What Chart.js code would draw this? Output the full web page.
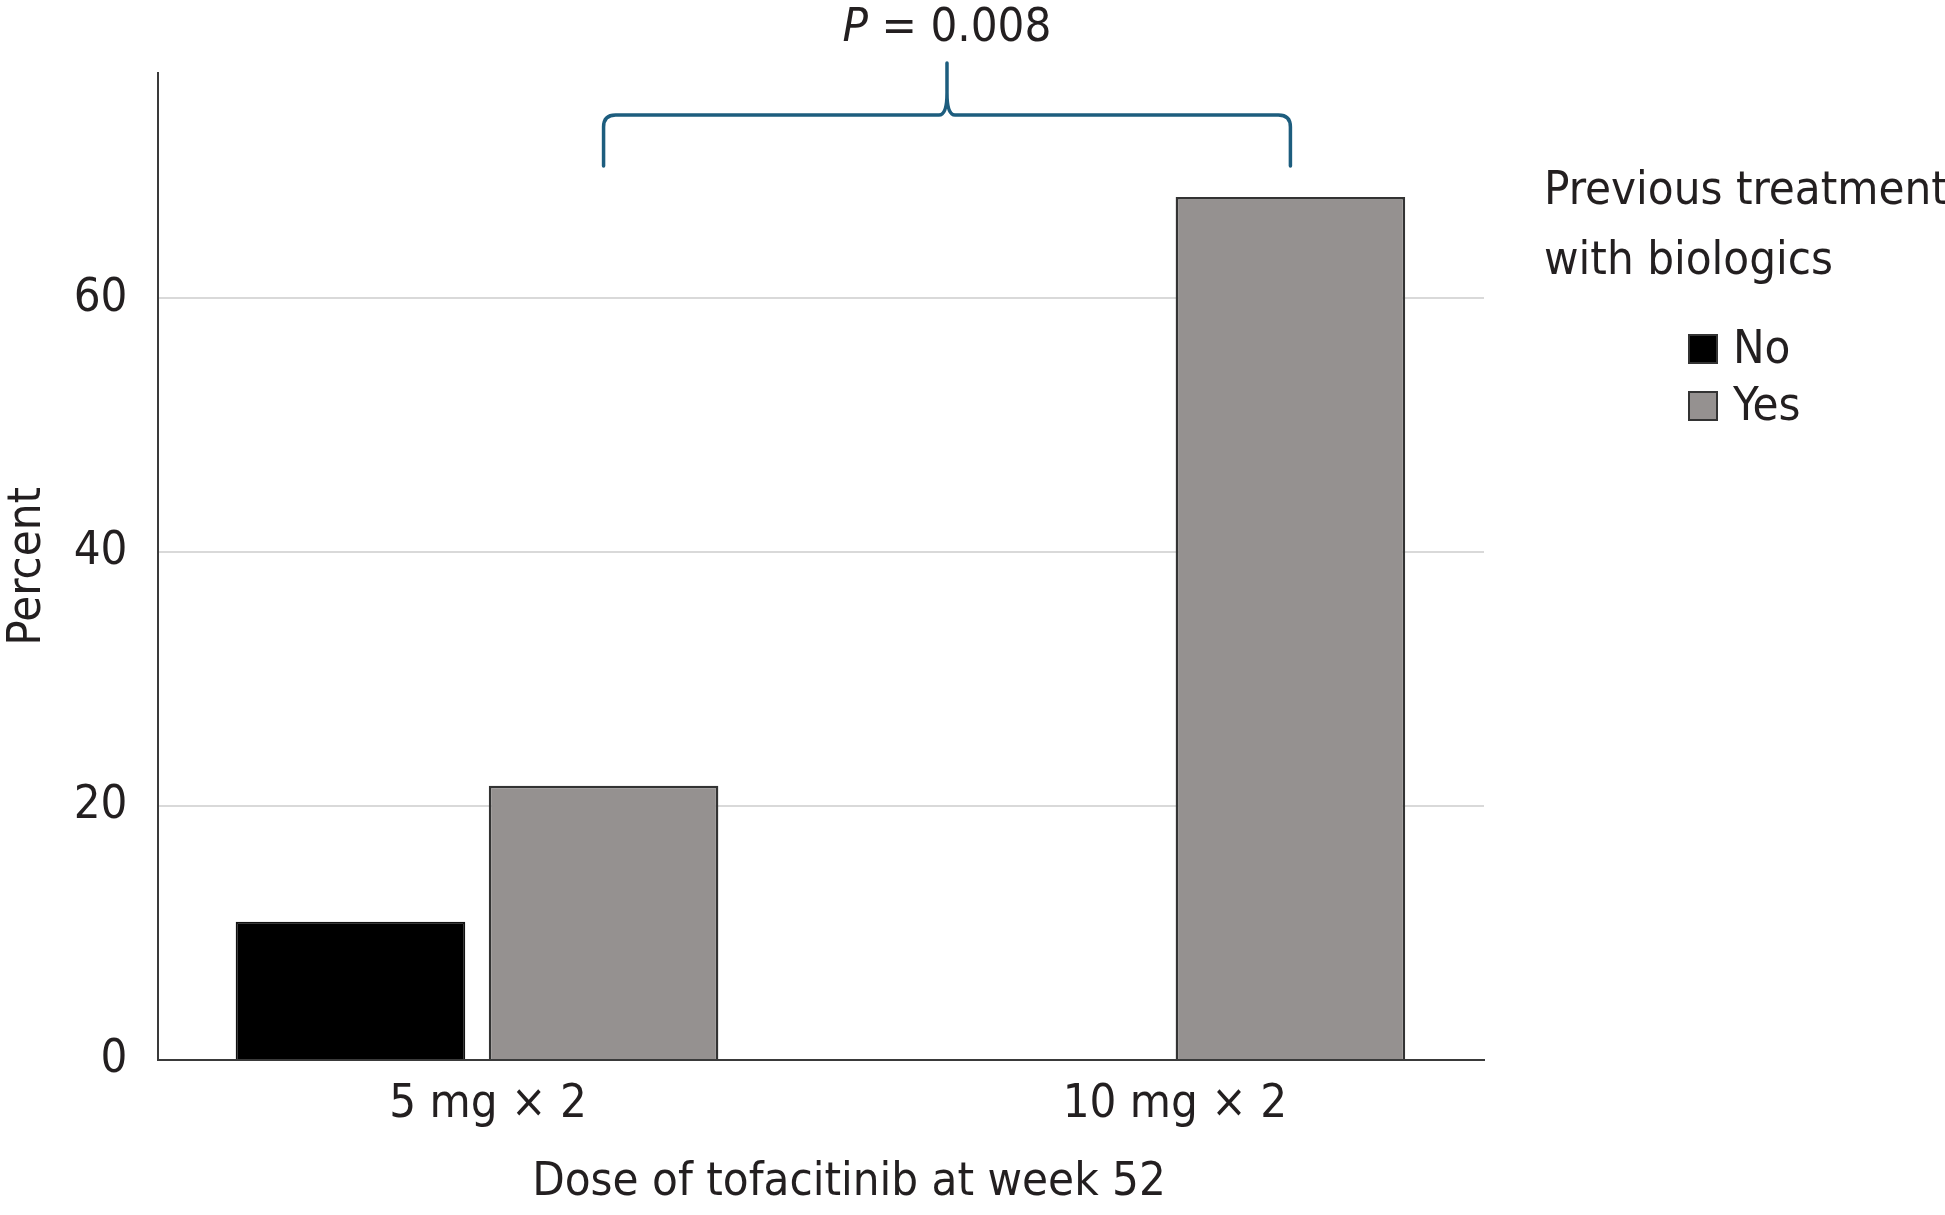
<!DOCTYPE html>
<html>
<head>
<meta charset="utf-8">
<script src="https://cdn.jsdelivr.net/npm/chart.js@4.4.1/dist/chart.umd.min.js"></script>
<style>
  html, body { margin: 0; padding: 0; background: #fff; }
  #wrap { width: 1945px; height: 1215px; position: relative; }
</style>
</head>
<body>
<div id="wrap"><canvas id="doseChart"></canvas></div>
<script>
// ---- data ----
const doses      = ['5 mg \u00d7 2', '10 mg \u00d7 2'];
const groupNames = ['No', 'Yes'];
const pctNo      = [10.9, 0];
const pctYes     = [21.6, 68.0];
const yTicks     = [0, 20, 40, 60];
const legendHead = ['Previous treatment', 'with biologics'];
const xTitle     = 'Dose of tofacitinib at week 52';
const pLabel     = '0.008';

const FONT     = '"DejaVu Sans Condensed", "Liberation Sans Narrow", "DejaVu Sans", sans-serif';
const TXT      = '#231f20';
const NO_COL   = '#000000';
const YES_COL  = '#959190';
const BRACE    = '#1d5d7e';

// brace + P value over the two "Yes" bars
const bracePlugin = {
  id: 'brace',
  afterDatasetsDraw(chart) {
    const ctx  = chart.ctx;
    const bars = chart.getDatasetMeta(1).data;
    const x1 = bars[0].x, x2 = bars[1].x, xm = (x1 + x2) / 2;
    const yEnd = 166, yBar = 115, yTop = 63, r = 12;

    ctx.save();
    ctx.strokeStyle = BRACE;
    ctx.lineWidth = 3.5;
    ctx.lineCap = 'round';
    ctx.beginPath();
    ctx.moveTo(x1, yEnd);
    ctx.lineTo(x1, yBar + r);
    ctx.quadraticCurveTo(x1, yBar, x1 + r, yBar);
    ctx.lineTo(xm - 8, yBar);
    ctx.quadraticCurveTo(xm, yBar, xm, yBar - 22);
    ctx.lineTo(xm, yTop);
    ctx.moveTo(xm, yBar - 22);
    ctx.quadraticCurveTo(xm, yBar, xm + 8, yBar);
    ctx.lineTo(x2 - r, yBar);
    ctx.quadraticCurveTo(x2, yBar, x2, yBar + r);
    ctx.lineTo(x2, yEnd);
    ctx.stroke();

    // "P = 0.008" with italic P
    const italic = 'italic 47px ' + FONT;
    const plain  = '47px ' + FONT;
    ctx.font = italic;
    const wP = ctx.measureText('P').width;
    ctx.font = plain;
    const rest = ' = ' + pLabel;
    const wR = ctx.measureText(rest).width;
    let x = xm - (wP + wR) / 2;
    ctx.fillStyle = TXT;
    ctx.textBaseline = 'middle';
    ctx.textAlign = 'left';
    ctx.font = italic;
    ctx.fillText('P', x, 29);
    ctx.font = plain;
    ctx.fillText(rest, x + wP, 29);
    ctx.restore();
  }
};

// legend on the right with a two-line heading, plus the x title
const sideLegend = {
  id: 'sideLegend',
  afterDraw(chart) {
    const ctx = chart.ctx;
    ctx.save();
    ctx.fillStyle = TXT;
    ctx.font = '47px ' + FONT;
    ctx.textBaseline = 'middle';
    ctx.textAlign = 'left';
    ctx.fillText(legendHead[0], 1544, 192);
    ctx.fillText(legendHead[1], 1544, 262);

    chart.data.datasets.forEach((ds, i) => {
      const y = 349 + i * 57;
      ctx.fillStyle = ds.backgroundColor;
      ctx.fillRect(1689, y - 14, 28, 28);
      ctx.strokeStyle = '#333';
      ctx.lineWidth = 2;
      ctx.strokeRect(1689, y - 14, 28, 28);
      ctx.fillStyle = TXT;
      ctx.fillText(ds.label, 1733, y + 2);
    });

    ctx.textAlign = 'center';
    ctx.fillText(xTitle, 849, 1183);
    ctx.restore();
  }
};

new Chart(document.getElementById('doseChart').getContext('2d'), {
  type: 'bar',
  data: {
    datasets: [
      { label: groupNames[0], data: pctNo.map((v, i) => ({ x: i, y: v })),
        backgroundColor: NO_COL, borderColor: '#111', borderWidth: 2 },
      { label: groupNames[1], data: pctYes.map((v, i) => ({ x: i, y: v })),
        backgroundColor: YES_COL, borderColor: '#333', borderWidth: 2.5 }
    ]
  },
  options: {
    responsive: true, maintainAspectRatio: false,
    animation: false,
    devicePixelRatio: 1,
    datasets: { bar: { categoryPercentage: 0.737, barPercentage: 0.907 } },
    layout: { padding: { top: 72.5, right: 461, left: 0, bottom: 0 } },
    plugins: {
      legend: { display: false },
      tooltip: { enabled: false }
    },
    scales: {
      x: {
        type: 'linear',
        min: -0.4652, max: 1.4661,
        offset: false,
        grid: { display: false },
        border: { display: true, color: '#3a3a3a', width: 2 },
        afterBuildTicks: s => { s.ticks = doses.map((d, i) => ({ value: i })); },
        ticks: { color: TXT, font: { family: FONT, size: 47 }, padding: 9, labelOffset: 11,
                 autoSkip: false, maxRotation: 0, callback: v => doses[v] },
        afterFit: s => { s.height = 155; }
      },
      y: {
        min: 0, max: 77.8,
        grid: { color: '#d9d9d9', lineWidth: 2, drawTicks: false },
        border: { display: true, color: '#3a3a3a', width: 2 },
        afterBuildTicks: s => { s.ticks = yTicks.map(v => ({ value: v })); },
        ticks: { color: TXT, font: { family: FONT, size: 47 }, padding: 30 },
        title: { display: true, text: 'Percent', color: TXT,
                 font: { family: FONT, size: 47 }, padding: { top: 0, bottom: 0 } },
        afterFit: s => { s.width = 157.5; }
      }
    }
  },
  plugins: [bracePlugin, sideLegend]
});
</script>
</body>
</html>
